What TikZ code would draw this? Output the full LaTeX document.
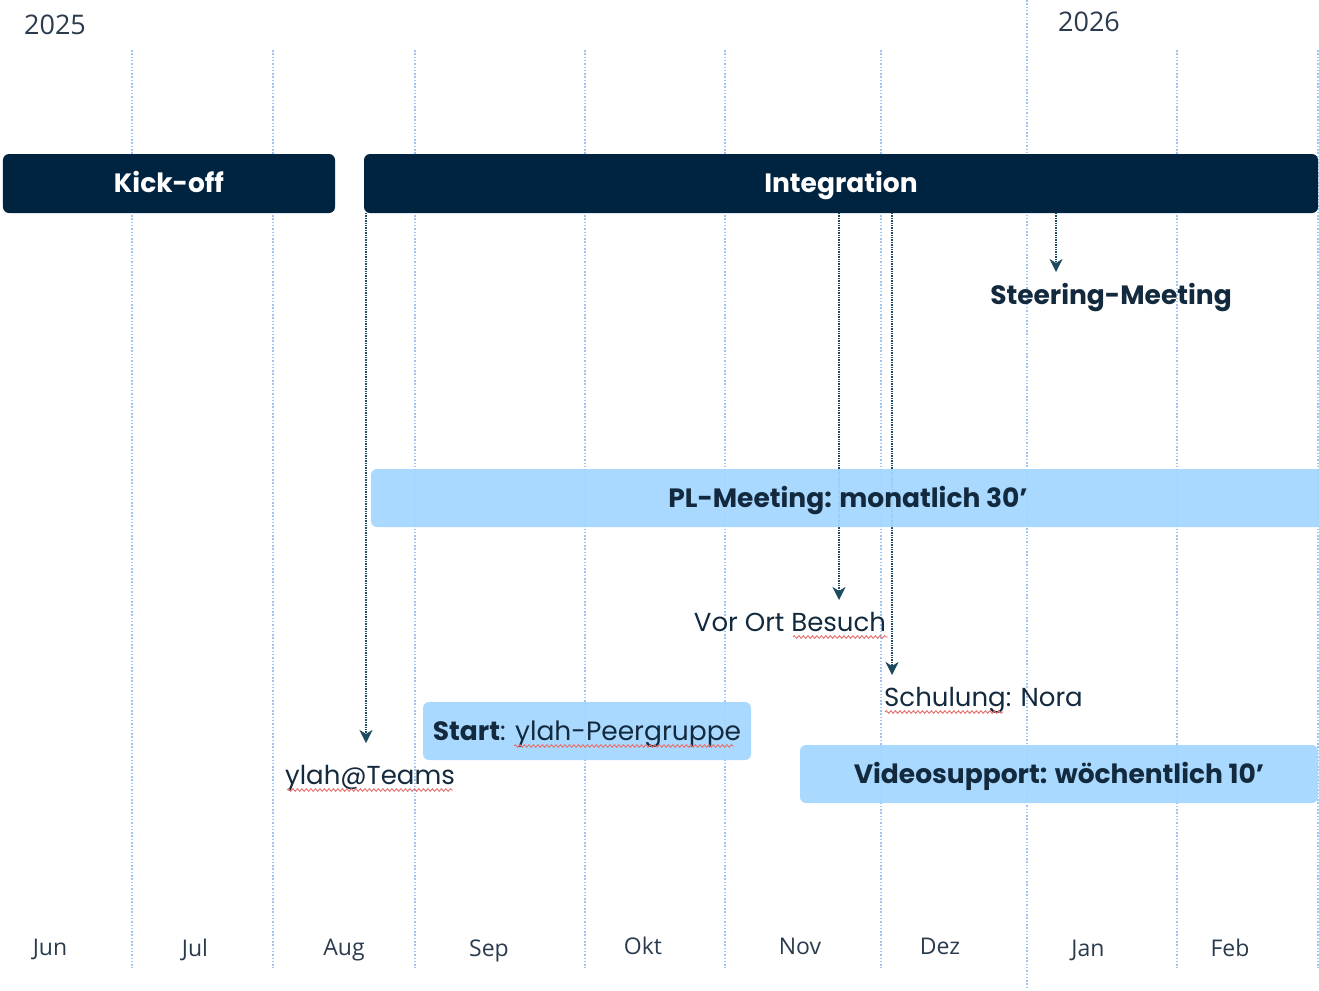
\documentclass[tikz,border=0pt]{standalone}
\usepackage{fontspec}
\setmainfont{Poppins}
\newfontfamily\axisfont{Open Sans}
\usetikzlibrary{arrows.meta,decorations.pathmorphing}
\definecolor{navy}{HTML}{00233F}
\definecolor{lightbox}{HTML}{A2D6FF}
\definecolor{txt}{HTML}{13293D}
\definecolor{axistxt}{HTML}{2B3B4E}
\definecolor{gridc}{HTML}{9EC3F5}
\definecolor{arrowc}{HTML}{1D4A5E}
\definecolor{squig}{HTML}{E8706E}
\tikzset{
  gridline/.style={draw=gridc, line width=1.1bp, dash pattern=on 1.5bp off 1.8bp},
  navybox/.style={fill=navy, rounded corners=6bp, inner sep=0pt, text=white,
    text height=20bp, text depth=2bp,
    font=\fontsize{26.5bp}{30bp}\selectfont\bfseries},
  bluebox/.style={fill=lightbox, fill opacity=0.92, text opacity=1, rounded corners=6bp, inner sep=0pt, text=txt,
    text height=20bp, text depth=2bp,
    font=\fontsize{26.5bp}{30bp}\selectfont\bfseries},
  lbl/.style={inner sep=0pt, text=txt, text height=20bp, text depth=2bp,
    font=\fontsize{26bp}{30bp}\selectfont},
  boldlbl/.style={lbl, font=\fontsize{26.5bp}{30bp}\selectfont\bfseries},
  monthlbl/.style={inner sep=0pt, text=axistxt, text height=17.5bp, text depth=1.5bp,
    font=\axisfont\fontsize{23bp}{28bp}\selectfont},
  yearlbl/.style={inner sep=0pt, text=axistxt, text height=20bp, text depth=1.5bp,
    font=\axisfont\fontsize{27bp}{30bp}\selectfont},
  evarrow/.style={draw=arrowc, line width=1.6bp, dash pattern=on 1.3bp off 1.1bp,
    -{Stealth[length=13bp,width=13bp,inset=4bp,line width=0.5bp]}},
  spell/.style={draw=squig, line width=0.9bp, decorate,
    decoration={snake, amplitude=1.3bp, segment length=4.5bp}}
}
\begin{document}
\begin{tikzpicture}[x=1bp,y=-1bp]
\useasboundingbox (0,0) rectangle (1319,990);
% grid
\foreach \gx in {132,273,415,585,725,881,1177,1318}
  \draw[gridline] (\gx,50) -- (\gx,968);
\draw[gridline] (1027,0) -- (1027,990);
% years
\node[yearlbl] (y2025) at (55,25) {2025};
\node[yearlbl] (y2026) at (1089,22) {2026};
% months
\node[monthlbl] (mjun) at (50,947) {Jun};
\node[monthlbl] (mjul) at (195,948) {Jul};
\node[monthlbl] (maug) at (344,947) {Aug};
\node[monthlbl] (msep) at (489,948) {Sep};
\node[monthlbl] (mokt) at (643,946) {Okt};
\node[monthlbl] (mnov) at (800,946) {Nov};
\node[monthlbl] (mdez) at (940,946) {Dez};
\node[monthlbl] (mjan) at (1088,948) {Jan};
\node[monthlbl] (mfeb) at (1230,948) {Feb};
% arrow anchors
\coordinate (s1) at (366,213);
\coordinate (e1) at (366,743);
\coordinate (s2) at (839,213);
\coordinate (e2) at (839,600);
\coordinate (s3) at (892,213);
\coordinate (e3) at (892,675);
\coordinate (s4) at (1056,213);
\coordinate (e4) at (1056,272);
\draw[evarrow] (s1) -- (e1);
\draw[evarrow] (s2) -- (e2);
\draw[evarrow] (s3) -- (e3);
\draw[evarrow] (s4) -- (e4);
% light boxes
\node[bluebox, minimum width=954bp, minimum height=58bp] (pl) at (848,498) {PL-Meeting: monatlich 30’};
\node[bluebox, minimum width=328bp, minimum height=58bp] (start) at (587,731) {Start\mdseries: ylah-Peergruppe};
\node[bluebox, minimum width=518bp, minimum height=58bp] (video) at (1059,774) {Videosupport: wöchentlich 10’};
% phases
\node[navybox, minimum width=332bp, minimum height=59bp] (kick) at (169,183.5) {Kick-off};
\node[navybox, minimum width=954bp, minimum height=59bp] (integ) at (841,183.5) {Integration};
% events
\node[boldlbl] (steer) at (1111,295) {Steering-Meeting};
\node[lbl] (vor) at (790,622) {Vor Ort Besuch};
\node[lbl, anchor=west] (schul) at (884,697) {Schulung: Nora};
\node[lbl] (teams) at (370,775) {ylah@Teams};
% spell-check underlines
\coordinate (u1a) at (793,637); \coordinate (u1b) at (888,637);
\coordinate (u2a) at (885,712); \coordinate (u2b) at (1003,712);
\coordinate (u3a) at (514,746); \coordinate (u3b) at (734,746);
\coordinate (u4a) at (287,790); \coordinate (u4b) at (453,790);
\draw[spell] (u1a) -- (u1b);
\draw[spell] (u2a) -- (u2b);
\draw[spell] (u3a) -- (u3b);
\draw[spell] (u4a) -- (u4b);
\end{tikzpicture}
\end{document}
